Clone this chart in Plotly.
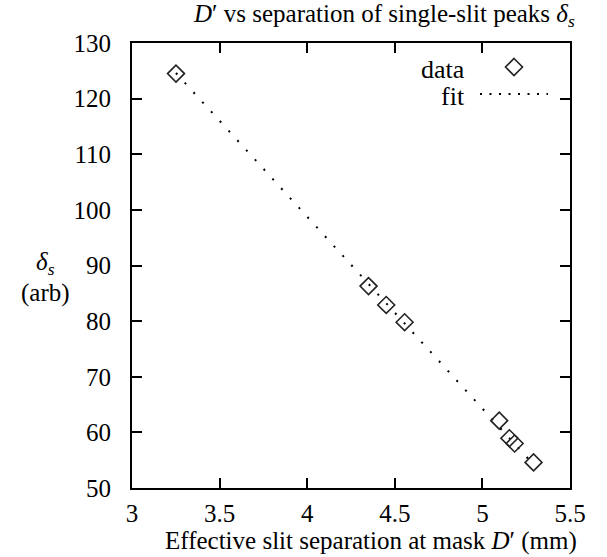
import plotly.graph_objects as go

# data
d_prime = [3.251, 4.350, 4.451, 4.556, 5.096, 5.154, 5.184, 5.292]
delta_s = [124.5, 86.3, 82.9, 79.8, 62.1, 58.95, 58.0, 54.6]

fit_x = [3.251, 5.292]
fit_y = [124.6, 54.2]

x_ticks = [3, 3.5, 4, 4.5, 5, 5.5]
x_tick_text = ["3", "3.5", "4", "4.5", "5", "5.5"]
y_ticks = [50, 60, 70, 80, 90, 100, 110, 120, 130]

FONT = "Liberation Serif"
FS = 25

fig = go.Figure()
fig.add_trace(go.Scatter(
    x=fit_x, y=fit_y, mode="lines", name="fit",
    line=dict(color="black", width=2, dash="2px,11px"),
))
fig.add_trace(go.Scatter(
    x=d_prime, y=delta_s, mode="markers", name="data",
    marker=dict(symbol="diamond-open", size=13, color="#222222",
                line=dict(width=1.6, color="#222222")),
))

W, H = 607, 557
L, R, T, B = 132, 37, 43, 69
pw, ph = W - L - R, H - T - B

def px(xp):
    return (xp - L) / pw

def py(yp):
    return (H - B - yp) / ph

axis_common = dict(
    showline=True, linecolor="black", linewidth=2, mirror="ticks",
    ticks="inside", ticklen=10, tickwidth=2, tickcolor="black",
    showgrid=False, zeroline=False,
    tickfont=dict(family=FONT, size=FS, color="black"),
)

fig.update_layout(
    width=W, height=H,
    margin=dict(l=L, r=R, t=T, b=B, pad=0),
    paper_bgcolor="white", plot_bgcolor="white",
    showlegend=False,
    xaxis=dict(range=[3, 5.5], tickvals=x_ticks, ticktext=x_tick_text, **axis_common),
    yaxis=dict(range=[50, 130], tickvals=y_ticks, **axis_common),
    font=dict(family=FONT, size=FS, color="black"),
)
fig.update_xaxes(ticklabelstandoff=2)
fig.update_yaxes(ticklabelstandoff=14)

ann = [
    dict(text="<i>D</i>′ vs separation of single-slit peaks <i>δ<sub>s</sub></i>",
         x=px(384), y=py(15), xanchor="center", yanchor="middle", size=25),
    dict(text="Effective slit separation at mask <i>D</i>′ (mm)",
         x=px(371), y=py(541), xanchor="center", yanchor="middle", size=25),
    dict(text="<i>δ<sub>s</sub></i>", x=px(45), y=py(263), xanchor="center", yanchor="middle", size=25),
    dict(text="(arb)", x=px(45), y=py(293), xanchor="center", yanchor="middle", size=25),
    dict(text="data", x=px(467), y=py(69), xanchor="right", yanchor="middle", size=26),
    dict(text="fit", x=px(467), y=py(96), xanchor="right", yanchor="middle", size=26),
]
for a in ann:
    sz = a.pop("size")
    fig.add_annotation(xref="paper", yref="paper", showarrow=False,
                       font=dict(family=FONT, size=sz, color="black"), **a)

# legend keys
fig.add_shape(type="path", xref="paper", yref="paper", xsizemode="pixel", ysizemode="pixel",
              xanchor=px(514), yanchor=py(67),
              path="M0,8.5 L8.5,0 L0,-8.5 L-8.5,0 Z",
              line=dict(color="#222222", width=1.6))
fig.add_shape(type="line", xref="paper", yref="paper",
              x0=px(480), x1=px(548), y0=py(94), y1=py(94),
              line=dict(color="black", width=2, dash="2px,7.5px"))

fig.write_html("out.html", config={"displayModeBar": False},
               post_script="document.body.style.margin='0';document.body.style.padding='0';")
